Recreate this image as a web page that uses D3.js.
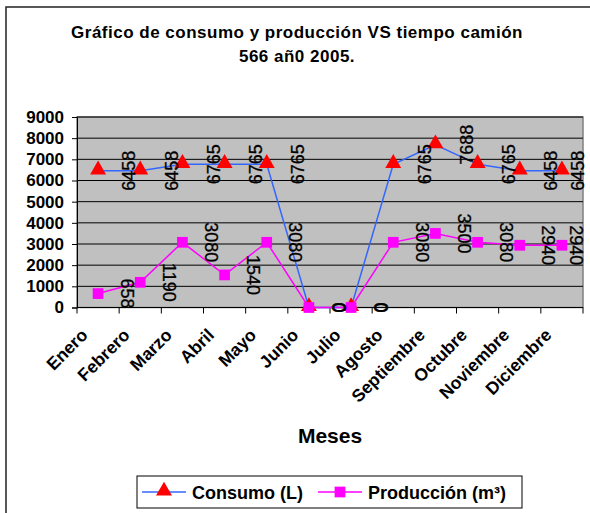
<!DOCTYPE html>
<html>
<head>
<meta charset="utf-8">
<script src="https://cdn.jsdelivr.net/npm/d3@7/dist/d3.min.js"></script>
<style>
  html, body { margin: 0; padding: 0; background: #fff; }
  svg { display: block; font-family: "Liberation Sans", Arial, sans-serif; }
</style>
</head>
<body>
<svg id="chart" width="590" height="513"></svg>
<script>
// Monthly data for truck 566, year 2005
const meses = ["Enero", "Febrero", "Marzo", "Abril", "Mayo", "Junio", "Julio",
               "Agosto", "Septiembre", "Octubre", "Noviembre", "Diciembre"];
const consumo = [6458, 6458, 6765, 6765, 6765, 0, 0, 6765, 7688, 6765, 6458, 6458];
const produccion = [658, 1190, 3080, 1540, 3080, 0, 0, 3080, 3500, 3080, 2940, 2940];
const yTicks = [0, 1000, 2000, 3000, 4000, 5000, 6000, 7000, 8000, 9000];
const titulo = ["Gráfico de consumo y producción VS tiempo camión", "566 añ0 2005."];
const tituloEje = "Meses";
const nombres = ["Consumo (L)", "Producción (m³)"];

const svg = d3.select("#chart");
const plot = { left: 77, right: 583, top: 117, bottom: 307.5 };

const x = d3.scaleBand().domain(meses).range([plot.left, plot.right]);
const y = d3.scaleLinear().domain([0, 9000]).range([plot.bottom, plot.top]);
const cx = m => x(m) + x.bandwidth() / 2;

// Outer chart frame
svg.append("rect").attr("x", 6).attr("y", 7).attr("width", 620).attr("height", 540)
  .attr("fill", "#fff").attr("stroke", "#222").attr("stroke-width", 1.5);

// Title
svg.append("g").selectAll("text").data(titulo).join("text")
  .attr("x", 297).attr("y", (d, i) => 38 + i * 24)
  .attr("text-anchor", "middle").attr("font-weight", "bold").attr("font-size", 17)
  .attr("letter-spacing", 0.5)
  .text(d => d);

// Plot area
svg.append("rect").attr("x", plot.left).attr("y", plot.top)
  .attr("width", plot.right - plot.left).attr("height", plot.bottom - plot.top)
  .attr("fill", "#C0C0C0").attr("stroke", "#808080").attr("stroke-width", 1.5);

svg.append("g").selectAll("line").data(yTicks.filter(t => t > 0)).join("line")
  .attr("x1", plot.left).attr("x2", plot.right)
  .attr("y1", d => y(d)).attr("y2", d => y(d))
  .attr("stroke", "#000").attr("stroke-width", 1);

// Y axis
const yAxis = d3.axisLeft(y).tickValues(yTicks).tickSize(5).tickPadding(8).tickFormat(d3.format("d"));
svg.append("g").attr("transform", `translate(${plot.left},0)`).call(yAxis)
  .call(g => g.select(".domain").attr("stroke", "#000"))
  .call(g => g.selectAll(".tick line").attr("stroke", "#000"))
  .call(g => g.selectAll("text").attr("font-size", 17).attr("font-weight", "bold")
    .attr("font-family", "Liberation Sans, Arial, sans-serif").attr("fill", "#000"));

// X axis: ticks on category boundaries
const xAxisG = svg.append("g").attr("transform", `translate(0,${plot.bottom})`);
xAxisG.append("line").attr("x1", plot.left).attr("x2", plot.right).attr("stroke", "#000");
const bordes = meses.map(m => x(m)).concat([plot.right]);
xAxisG.selectAll("line.tk").data(bordes).join("line").attr("class", "tk")
  .attr("x1", d => d).attr("x2", d => d).attr("y1", 0).attr("y2", 6).attr("stroke", "#000");
xAxisG.selectAll("text").data(meses).join("text")
  .attr("transform", d => `translate(${cx(d) - 18},${20}) rotate(-45)`)
  .attr("text-anchor", "end").attr("dy", "0.7em")
  .attr("font-size", 17.5).attr("font-weight", "bold")
  .text(d => d);

svg.append("text").attr("x", 330).attr("y", 443).attr("text-anchor", "middle")
  .attr("font-size", 21).attr("font-weight", "bold").text(tituloEje);

// Series
const linea = d3.line().x((d, i) => cx(meses[i])).y(d => y(d));
const tri = d3.symbol().type(d3.symbolTriangle).size(110);
const sq = d3.symbol().type(d3.symbolSquare).size(115);

svg.append("path").datum(consumo).attr("d", linea)
  .attr("fill", "none").attr("stroke", "#3366FF").attr("stroke-width", 1.5);
svg.append("g").selectAll("path").data(consumo).join("path")
  .attr("d", tri).attr("transform", (d, i) => `translate(${cx(meses[i])},${y(d) - 1})`)
  .attr("fill", "#FF0000");

svg.append("path").datum(produccion).attr("d", linea)
  .attr("fill", "none").attr("stroke", "#FF00FF").attr("stroke-width", 1.5);
svg.append("g").selectAll("path").data(produccion).join("path")
  .attr("d", sq).attr("transform", (d, i) => `translate(${cx(meses[i])},${y(d)})`)
  .attr("fill", "#FF00FF");

// Value labels (consumo reads upward, producción reads downward)
const labelX = i => Math.min(cx(meses[i]) + 31, 578);
svg.append("g").selectAll("text").data(consumo).join("text")
  .attr("transform", (d, i) => `translate(${labelX(i)},${y(d)}) rotate(-90)`)
  .attr("text-anchor", "middle").attr("dy", "0.35em")
  .attr("font-size", 18).attr("stroke", "#000").attr("stroke-width", 0.3)
  .text(d => d);
svg.append("g").selectAll("text").data(produccion).join("text")
  .attr("transform", (d, i) => `translate(${labelX(i) - 2},${y(d)}) rotate(90)`)
  .attr("text-anchor", "middle").attr("dy", "0.35em")
  .attr("font-size", 18).attr("stroke", "#000").attr("stroke-width", 0.3)
  .text(d => d);

// Legend
const leg = svg.append("g");
leg.append("rect").attr("x", 137).attr("y", 476).attr("width", 385).attr("height", 32)
  .attr("fill", "#fff").attr("stroke", "#000").attr("stroke-width", 1);
const items = [
  { x: 142, color: "#3366FF", mark: tri, fill: "#FF0000" },
  { x: 318, color: "#FF00FF", mark: sq, fill: "#FF00FF" }
];
items.forEach((it, i) => {
  leg.append("line").attr("x1", it.x).attr("x2", it.x + 44).attr("y1", 492).attr("y2", 492)
    .attr("stroke", it.color).attr("stroke-width", 1.5);
  leg.append("path").attr("d", it.mark).attr("transform", `translate(${it.x + 22},${i === 0 ? 491 : 492})`)
    .attr("fill", it.fill);
  leg.append("text").attr("x", it.x + 50).attr("y", 498.5)
    .attr("font-size", 18).attr("font-weight", "bold").text(nombres[i]);
});
</script>
</body>
</html>
